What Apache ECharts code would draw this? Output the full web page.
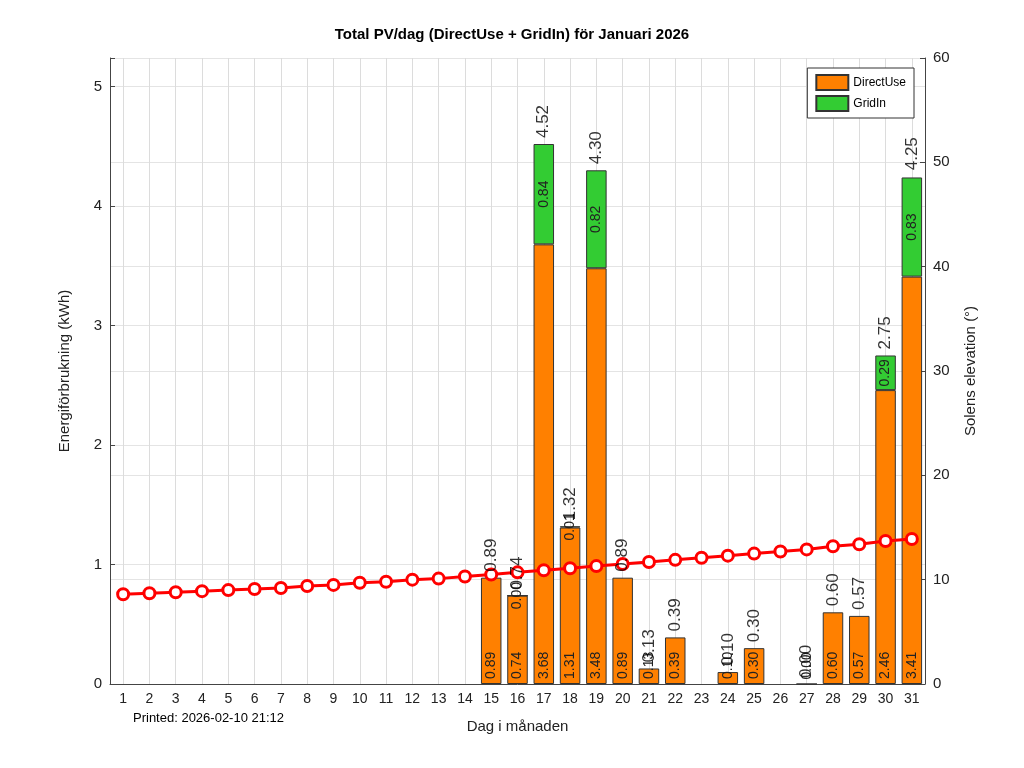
<!DOCTYPE html>
<html>
<head>
<meta charset="utf-8">
<script src="https://cdn.jsdelivr.net/npm/echarts@6/dist/echarts.min.js"></script>
<style>html,body{margin:0;background:#fff}#main{width:1024px;height:768px}</style>
</head>
<body>
<div id="main"></div>
<script>
/* dagar i januari */
var days = [];
for (var d = 1; d <= 31; d++) days.push(String(d));

var directUse = [null, null, null, null, null, null, null, null, null, null, null, null, null, null,
    0.89, 0.74, 3.68, 1.31, 3.48, 0.89, 0.13, 0.39, null, 0.10, 0.30, null, 0.00, 0.60, 0.57, 2.46, 3.41];
var gridIn = [null, null, null, null, null, null, null, null, null, null, null, null, null, null,
    null, 0.00, 0.84, 0.01, 0.82, null, null, null, null, null, null, null, null, null, null, 0.29, 0.83];
var totals = [null, null, null, null, null, null, null, null, null, null, null, null, null, null,
    0.89, 0.74, 4.52, 1.32, 4.30, 0.89, 0.13, 0.39, null, 0.10, 0.30, null, 0.00, 0.60, 0.57, 2.75, 4.25];
var elevation = [8.6, 8.7, 8.8, 8.9, 9.0, 9.1, 9.2, 9.4, 9.5, 9.7, 9.8, 10.0, 10.1, 10.3, 10.5, 10.7,
    10.9, 11.1, 11.3, 11.5, 11.7, 11.9, 12.1, 12.3, 12.5, 12.7, 12.9, 13.2, 13.4, 13.7, 13.9];

var font = 'Liberation Sans, Arial, sans-serif';
var myChart = echarts.init(document.getElementById('main'));

function fmt(p) { return p.value == null ? '' : Number(p.value).toFixed(2); }

// vertikala rutnätslinjer mitt på varje dag
var dayLines = days.map(function (d) { return { xAxis: d }; });

var option = {
    animation: false,
    textStyle: { fontFamily: font },
    title: {
        text: 'Total PV/dag (DirectUse + GridIn) för Januari 2026',
        left: 'center', top: 22,
        textStyle: { fontSize: 15, fontWeight: 'bold', color: '#000' }
    },
    legend: {
        data: ['DirectUse', 'GridIn'],
        orient: 'vertical',
        right: 110, top: 68,
        icon: 'rect',
        itemWidth: 32, itemHeight: 15, itemGap: 4,
        padding: [6, 8],
        borderColor: '#333', borderWidth: 1, backgroundColor: '#fff',
        textStyle: { fontSize: 12, color: '#000' }
    },
    graphic: [{
        type: 'text', left: 133, top: 712,
        style: { text: 'Printed: 2026-02-10 21:12', fontSize: 13, fill: '#000', fontFamily: font }
    }],
    grid: { left: 110, right: 99, top: 58, bottom: 84 },
    xAxis: {
        type: 'category',
        data: days,
        name: 'Dag i månaden',
        nameLocation: 'middle', nameGap: 35,
        nameTextStyle: { fontSize: 15, color: '#222' },
        axisLine: { lineStyle: { color: '#444' } },
        axisTick: { show: false },
        axisLabel: { fontSize: 14, color: '#222', interval: 0 },
        splitLine: { show: false }
    },
    yAxis: [{
        type: 'value', min: 0, max: 5.24, interval: 1,
        name: 'Energiförbrukning (kWh)',
        nameLocation: 'middle', nameGap: 38,
        nameTextStyle: { fontSize: 15, color: '#222' },
        axisLine: { show: true, lineStyle: { color: '#444' } },
        axisTick: { show: true, inside: true },
        axisLabel: { fontSize: 15, color: '#222', formatter: function (v) { return v % 1 === 0 ? v : ''; } },
        splitLine: { lineStyle: { color: '#e4e4e4' } }
    }, {
        type: 'value', min: 0, max: 60, interval: 10,
        name: 'Solens elevation (°)',
        nameLocation: 'middle', nameGap: 38,
        nameTextStyle: { fontSize: 15, color: '#222' },
        axisLine: { show: true, lineStyle: { color: '#444' } },
        axisTick: { show: true, inside: true },
        axisLabel: { fontSize: 15, color: '#222' },
        splitLine: { show: true, lineStyle: { color: '#e4e4e4' } }
    }],
    series: [{
        name: 'DirectUse', type: 'bar', stack: 'pv', data: directUse,
        barWidth: '78%',
        itemStyle: { color: '#ff8000', borderColor: '#333', borderWidth: 1 },
        label: { show: true, position: 'insideBottom', rotate: 90, align: 'left', verticalAlign: 'middle',
            distance: 5, fontSize: 14, color: '#222', formatter: fmt },
        markLine: {
            silent: true, symbol: 'none', label: { show: false },
            lineStyle: { color: '#dcdcdc', type: 'solid', width: 1 },
            data: dayLines, z: 0
        }
    }, {
        name: 'GridIn', type: 'bar', stack: 'pv', data: gridIn,
        itemStyle: { color: '#33cc33', borderColor: '#333', borderWidth: 1 },
        label: { show: true, position: 'inside', rotate: 90, fontSize: 14, color: '#222', formatter: fmt }
    }, {
        name: 'Total', type: 'scatter', data: totals, symbolSize: 0,
        label: { show: true, position: 'top', rotate: 90, align: 'left', verticalAlign: 'middle',
            distance: 6, fontSize: 17, color: '#000', formatter: fmt },
        z: 5
    }, {
        name: 'Elevation', type: 'line', yAxisIndex: 1, data: elevation,
        symbol: 'circle', symbolSize: 11,
        lineStyle: { color: '#ff0000', width: 3 },
        itemStyle: { color: '#fff', borderColor: '#ff0000', borderWidth: 3 },
        z: 4
    }]
};
myChart.setOption(option);
</script>
</body>
</html>
